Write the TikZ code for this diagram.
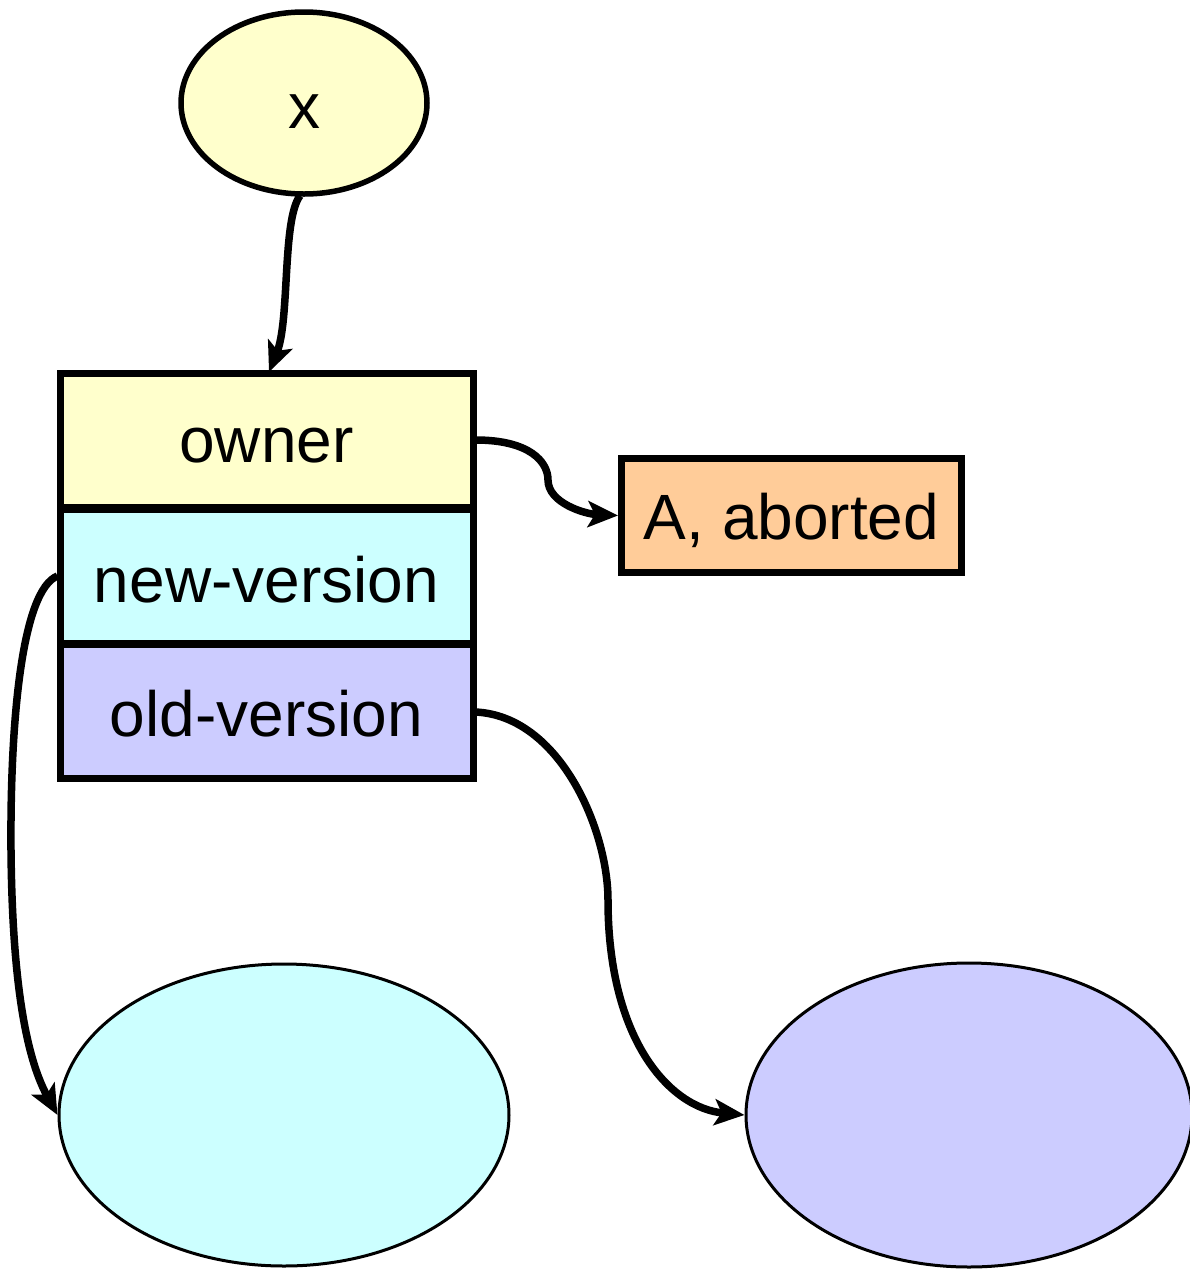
\documentclass[tikz,border=0pt]{standalone}
\usepackage{fontspec}
\setmainfont{Liberation Sans}
\usetikzlibrary{arrows.meta,shapes.geometric}
\definecolor{paleyellow}{HTML}{FFFFCC}
\definecolor{palecyan}{HTML}{CCFFFF}
\definecolor{palelav}{HTML}{CCCCFF}
\definecolor{paleorange}{HTML}{FFCC99}
\begin{document}
\begin{tikzpicture}[x=1pt,y=-1pt,
  label text/.style={font=\fontsize{64}{68}\selectfont, text depth=0pt},
  field/.style={draw, line width=7pt, minimum width=413pt, minimum height=134pt,
    inner sep=0pt, label text},
  blob/.style={draw, ellipse, line width=3pt, inner sep=0pt},
  link/.style={line width=7.5pt, -{Stealth[length=30pt,width=26pt,inset=7pt]}}]
\useasboundingbox (0,0) rectangle (1190,1270);
\clip (0,0) rectangle (1190,1270);

% variable x
\node[draw, ellipse, line width=5.5pt, fill=paleyellow, minimum width=246pt,
  minimum height=182pt, inner sep=0pt, label text, text height=50pt] (x) at (304,103) {x};

% record with three fields
\node[field, fill=paleyellow, text height=44pt] (owner) at (266.5,440) {owner};
\node[field, fill=palecyan, text height=52pt]   (newv)  at (266.5,576) {new-version};
\node[field, fill=palelav, text height=50pt]    (oldv)  at (266.5,711) {old-version};

% owner status
\node[draw, line width=7pt, fill=paleorange, minimum width=340pt, minimum height=114pt,
  inner sep=0pt, label text, text height=47pt] (status) at (791.5,515.5) {A, aborted};

% version objects
\node[blob, fill=palecyan, minimum width=450pt, minimum height=302pt] (newobj) at (284,1115) {};
\node[blob, fill=palelav, minimum width=446pt, minimum height=304pt] (oldobj) at (969,1115) {};

% pointers
\draw[link] (x.south) ++(-4,-1) coordinate (xs)
  .. controls (282,220) and (290,320) .. (269,372);
\draw[link] (owner.east) ++(-1,0) coordinate (os)
  .. controls (530,440) and (548,462) .. (548,480)
  .. controls (548,503) and (585,514) .. (status.west);
\draw[link] (newv.west) ++(1,0) coordinate (ns)
  .. controls (22,590) and (10,720) .. (11,850)
  .. controls (12,960) and (22,1050) .. (newobj.west);
\draw[link] (oldv.east) ++(-1,1) coordinate (ds)
  .. controls (560,716) and (608,830) .. (608,900)
  .. controls (608,1040) and (670,1108) .. (oldobj.west);
\end{tikzpicture}
\end{document}
